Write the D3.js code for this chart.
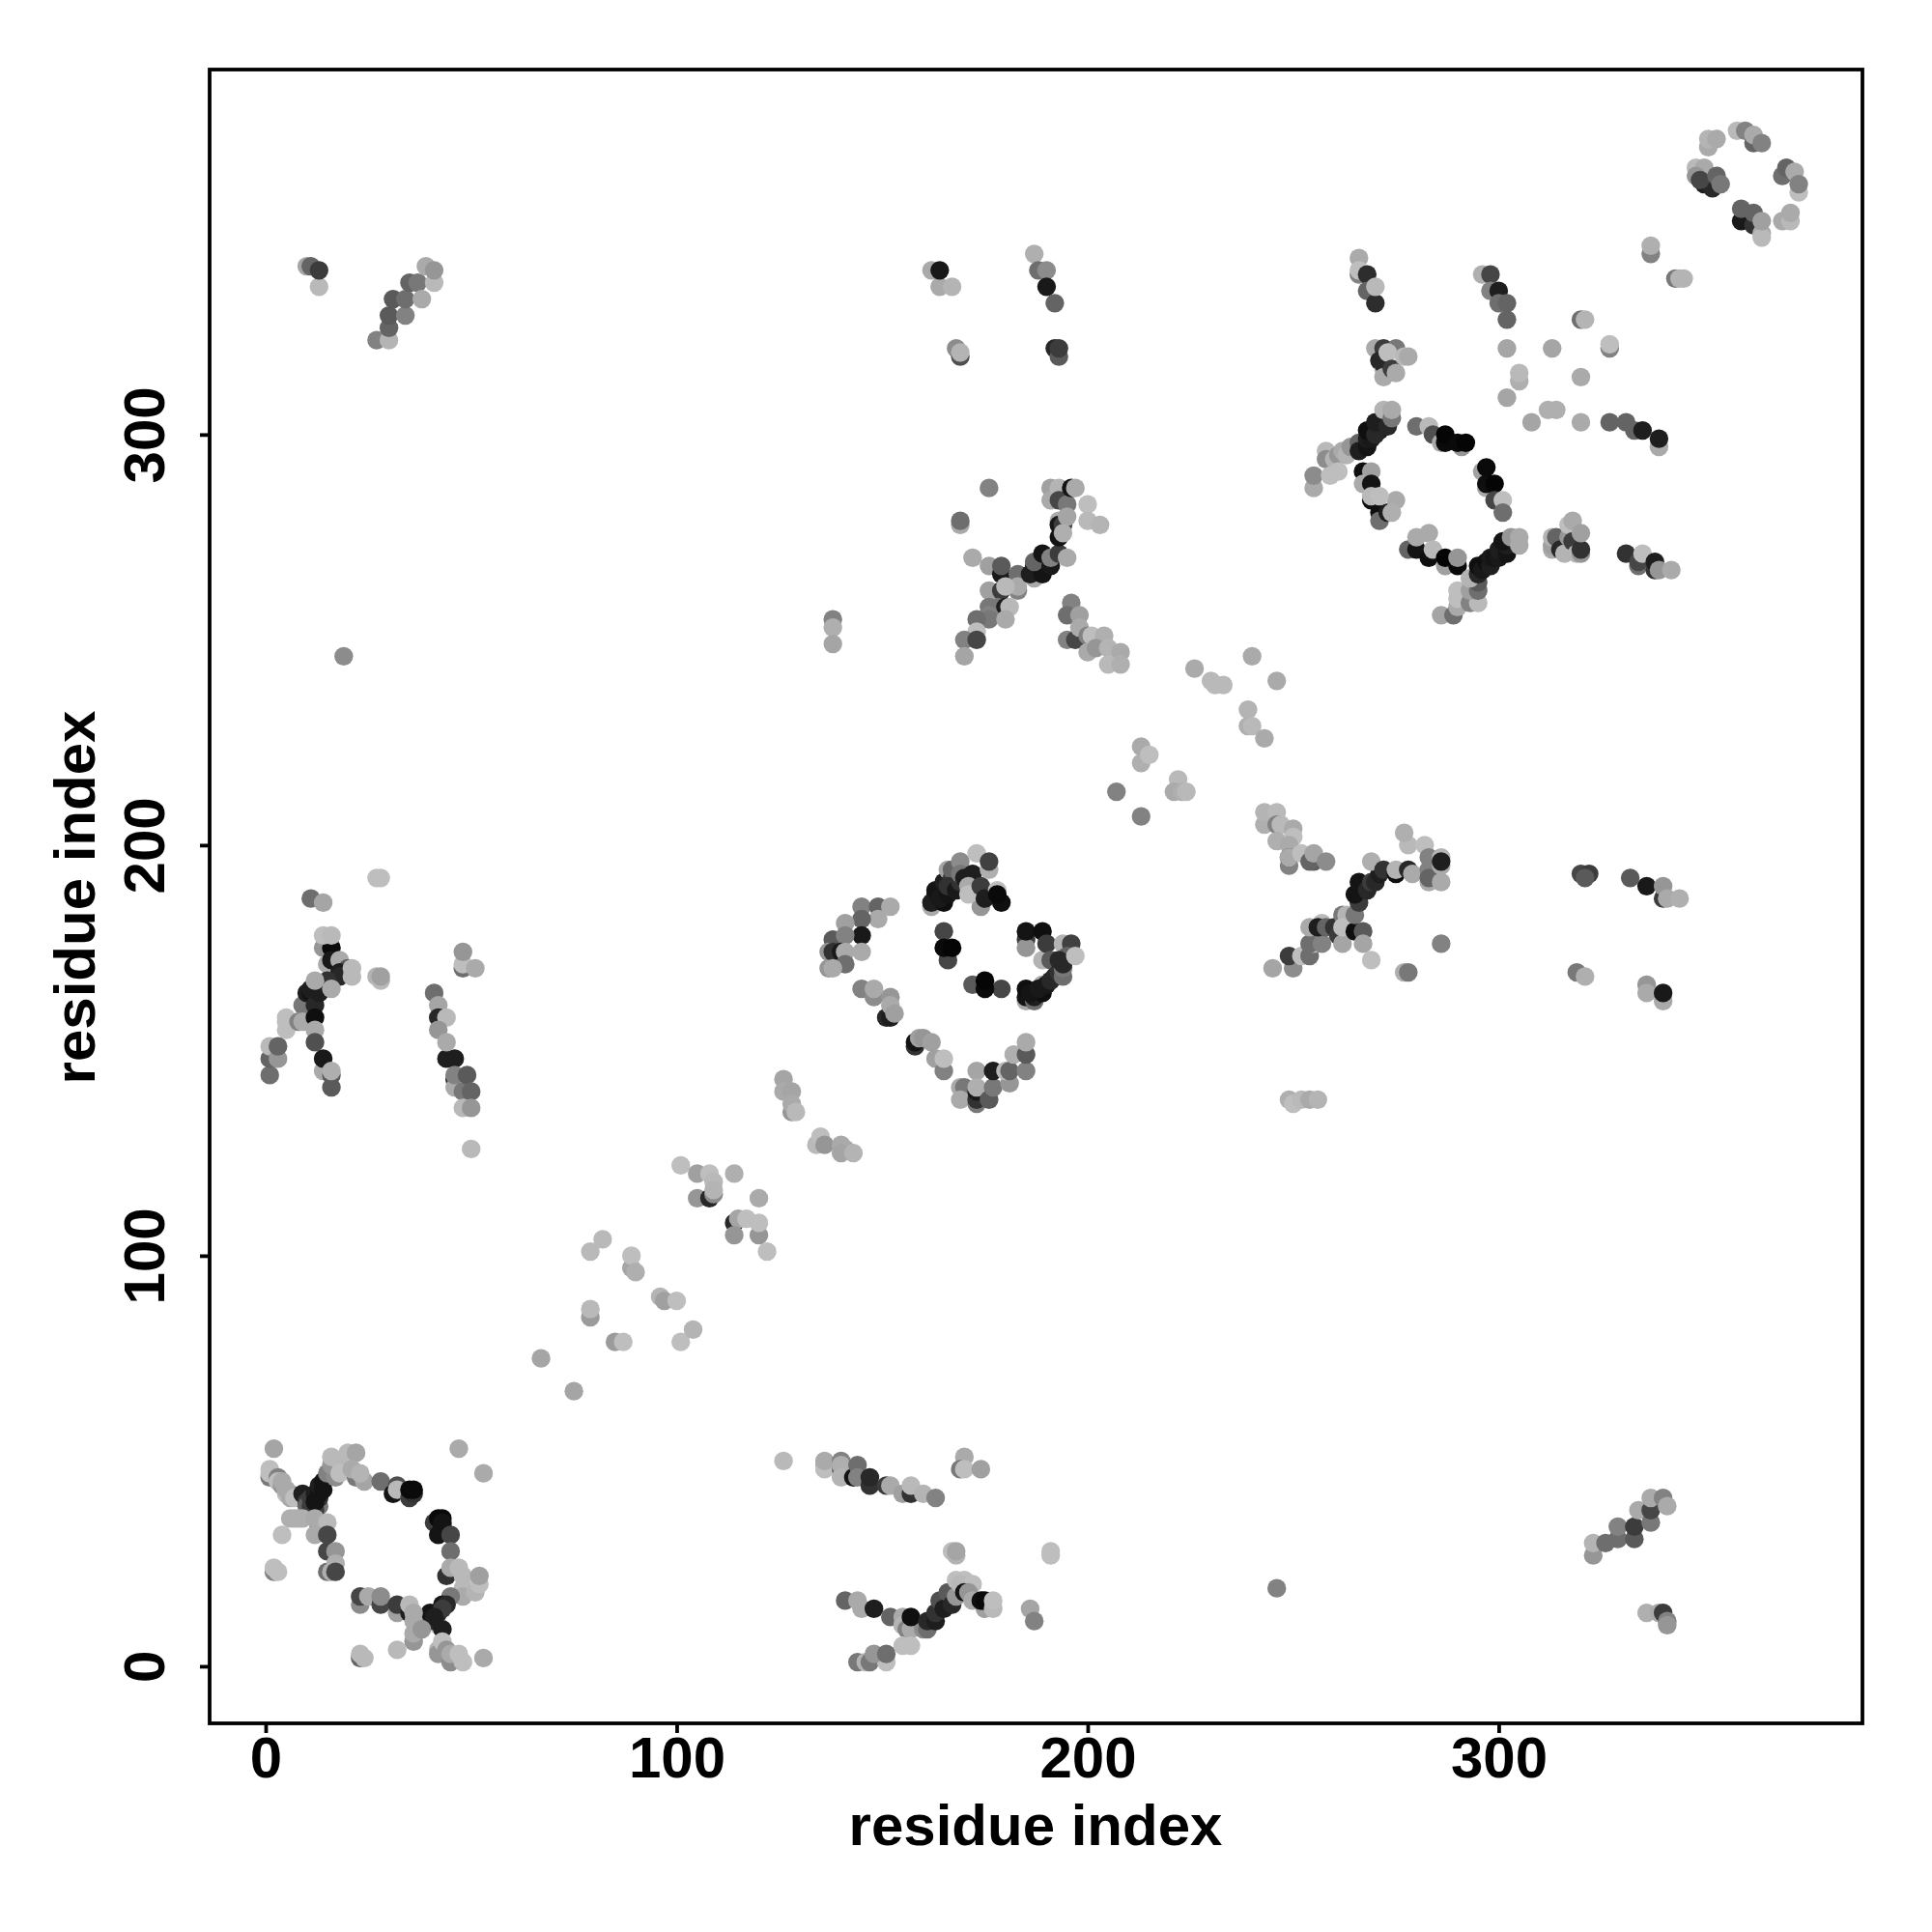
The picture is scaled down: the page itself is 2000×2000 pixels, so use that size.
<!DOCTYPE html>
<html><head><meta charset="utf-8">
<script src="https://d3js.org/d3.v7.min.js"></script>
<style>html,body{margin:0;background:#fff}</style></head>
<body><div id="chart"></div>
<script>
// [residue i, residue j, grey level]
const diagonalLow=[[67,75,165],[75,67,165],[79,101,185],[82,104,185],[89,97,165],[89,100,190],[90,96,175],[79,85,155],[79,87,185],[85,79,155],[87,79,190],[96,90,180],[97,89,160],[100,89,190],[101,79,190],[104,82,180],[101,122,190],[105,120,160],[108,120,190],[109,118,185],[105,114,150],[108,114,40],[109,115,140],[109,116,180],[114,120,175],[120,114,170],[114,108,40],[115,109,165],[117,109,190],[114,105,150],[120,105,150],[120,108,190],[122,101,190],[126,143,165],[126,140,170],[128,140,165],[128,135,150],[128,137,170],[129,135,185],[134,127,185],[135,129,190],[136,127,150],[140,127,170],[141,126,170],[140,125,165],[143,125,180]];
const diagonalMid=[[207,213,130],[213,207,130],[213,224,170],[213,220,175],[215,222,190],[222,216,185],[221,213,170],[223,213,175],[224,213,185],[226,243,170],[230,240,185],[231,239,185],[233,239,185],[239,233,180],[239,229,175],[240,229,185],[243,226,170],[240,246,170],[246,240,170],[19,246,140],[138,255,130],[138,253,175],[138,249,165],[126,50,185],[246,19,130],[249,138,175],[250,137,190],[252,138,185],[254,138,170],[256,138,180]];
const ringLowLeft=[[2,53,165],[47,53,170],[53,47,170],[4,32,190],[2,23,130],[2,24,190],[3,23,190],[1,46,120],[1,47,190],[1,48,190],[3,46,130],[3,45,190],[4,44,150],[4,45,170],[6,42,140],[5,42,190],[6,41,170],[5,43,170],[7,41,190],[13,39,120],[9,42,30],[10,40,60],[10,39,100],[11,41,60],[11,39,60],[12,38,60],[13,41,50],[12,42,30],[12,40,20],[13,42,20],[13,44,30],[14,43,20],[14,45,20],[6,36,175],[7,36,175],[8,36,175],[9,36,175],[13,34,60],[12,36,170],[15,35,185],[12,32,170],[15,32,70],[15,28,70],[17,28,150],[15,23,110],[16,23,175],[17,25,175],[17,23,70],[15,47,130],[17,46,140],[16,49,150],[17,49,150],[16,51,185],[18,50,185],[18,47,190],[20,52,185],[22,52,165],[22,46,120],[21,48,170],[24,45,165],[23,47,180],[28,45,110],[31,42,20],[32,44,80],[32,43,185],[35,41,60],[36,42,50],[35,43,10],[36,43,10],[41,35,60],[43,33,190],[42,36,10],[43,36,10],[43,35,20],[43,34,20],[42,32,20],[45,32,70],[45,28,110],[44,22,50],[45,24,170],[47,24,185],[48,22,185],[48,19,185],[48,17,170],[45,17,120],[51,18,180],[52,20,190],[52,22,160],[23,15,140],[23,17,70],[25,17,170],[28,15,70],[28,17,140],[32,13,160],[32,15,60],[35,13,30],[35,15,185],[39,12,110],[42,10,200],[43,15,20],[44,15,40],[42,13,30],[40,13,20],[43,14,60],[41,11,40],[41,12,30],[43,9,30],[36,6,150],[36,8,170],[36,11,170],[36,13,170],[38,9,150],[32,4,185],[23,2,100],[23,3,185],[24,2,185],[53,2,170],[42,4,180],[42,3,150],[43,6,190],[44,4,150],[45,1,140],[45,3,170],[47,3,190],[48,1,190]];
const blockLowMiddle=[[136,49,165],[136,48,190],[136,50,170],[140,48,110],[140,50,130],[140,49,175],[140,46,180],[143,46,20],[144,49,110],[144,46,130],[147,44,50],[147,46,40],[151,44,60],[152,44,170],[155,42,160],[157,42,50],[157,44,185],[160,42,180],[163,41,130],[170,51,170],[169,48,120],[170,48,190],[174,48,160],[167,28,190],[168,27,180],[168,28,165],[191,27,190],[191,28,190],[186,14,165],[187,11,130],[141,16,100],[145,14,170],[144,16,170],[148,14,30],[152,12,100],[155,12,170],[155,10,180],[156,9,130],[157,9,170],[160,9,140],[161,9,110],[157,12,15],[161,11,40],[163,11,30],[163,13,50],[164,16,80],[165,14,30],[166,18,90],[167,15,40],[168,17,150],[168,21,190],[170,21,190],[169,20,185],[172,20,190],[170,18,20],[171,18,150],[172,16,170],[175,14,160],[174,16,15],[175,16,10],[177,14,185],[177,16,190],[155,5,190],[157,5,190],[144,1,120],[146,1,180],[147,1,120],[151,1,190],[148,3,150],[151,3,110]];
const ringCentre=[[162,185,170],[162,186,30],[163,188,30],[163,189,20],[165,186,15],[164,187,25],[166,188,20],[165,191,30],[166,194,165],[167,192,60],[167,194,100],[166,190,50],[168,189,25],[169,191,50],[169,196,140],[169,193,120],[170,192,30],[172,193,30],[171,190,170],[174,185,150],[171,188,190],[174,190,60],[173,198,190],[175,187,30],[176,194,175],[176,196,65],[179,186,15],[178,189,190],[178,188,10],[145,185,130],[149,185,100],[149,182,170],[152,185,170],[145,182,100],[141,181,160],[145,178,25],[138,177,90],[141,178,130],[137,174,150],[137,170,150],[138,174,50],[140,174,25],[141,174,170],[141,171,110],[138,170,170],[145,174,170],[145,165,130],[148,163,140],[148,165,170],[152,163,150],[151,158,40],[152,158,30],[152,161,170],[153,159,160],[158,151,50],[158,152,20],[159,153,160],[160,153,150],[162,152,160],[163,148,160],[165,145,130],[165,148,190],[165,179,70],[166,172,70],[165,175,10],[167,175,5],[172,166,90],[179,165,70],[175,165,10],[175,167,5],[185,177,60],[185,175,150],[185,179,20],[189,179,15],[189,172,180],[190,176,60],[191,172,90],[194,176,180],[196,176,65],[195,173,100],[185,162,170],[185,163,20],[187,162,110],[187,163,30],[185,165,15],[189,166,170],[189,164,15],[186,164,20],[188,165,25],[190,166,25],[191,167,40],[192,168,40],[193,169,50],[194,168,110],[194,170,120],[193,172,40],[194,171,40],[197,173,190],[169,141,170],[170,141,120],[169,138,170],[173,145,165],[173,137,120],[173,138,50],[173,140,25],[173,141,175],[176,138,90],[177,141,120],[177,145,30],[181,142,150],[180,145,185],[181,145,100],[185,145,130],[182,149,175],[185,149,90],[185,152,170]];
const ringUpperRight=[[255,287,170],[255,290,140],[258,296,185],[258,294,140],[260,294,180],[261,295,150],[262,296,170],[259,290,190],[261,291,190],[263,295,180],[264,297,150],[266,298,100],[266,296,30],[268,297,20],[268,299,30],[269,299,25],[268,301,15],[271,301,25],[270,300,40],[270,303,30],[273,302,40],[272,306,180],[274,304,120],[274,306,170],[267,291,15],[269,291,160],[267,288,170],[269,288,20],[269,284,15],[269,285,185],[271,281,15],[271,279,110],[273,281,30],[275,284,170],[274,281,175],[271,285,190],[280,302,110],[283,302,185],[284,300,80],[286,298,170],[287,298,10],[287,300,5],[291,297,150],[290,298,10],[292,298,5],[296,291,160],[297,287,170],[297,288,15],[297,292,10],[299,288,5],[299,284,70],[301,284,190],[301,281,110],[278,272,100],[280,272,20],[280,275,170],[283,276,170],[283,270,15],[284,272,185],[287,268,160],[287,270,5],[290,268,10],[290,270,150],[286,256,165],[289,256,110],[290,258,170],[290,260,190],[290,262,190],[293,259,130],[295,259,185],[293,262,160],[295,262,110],[295,264,90],[293,265,180],[295,266,40],[295,268,15],[296,267,25],[297,269,15],[298,268,30],[298,270,25],[299,270,20],[300,270,25],[300,272,30],[302,271,20],[302,273,30],[301,274,20],[303,275,150],[305,273,170],[305,275,170]];
const blockUpperRight=[[266,339,130],[266,343,170],[266,340,190],[268,339,45],[268,335,100],[270,332,45],[270,336,185],[296,339,175],[298,339,70],[298,335,130],[300,335,30],[300,332,110],[302,332,100],[302,328,100],[302,321,165],[313,321,165],[320,328,110],[321,328,180],[327,321,130],[327,322,190],[337,344,130],[337,346,175],[343,338,120],[344,338,180],[345,338,180],[305,313,175],[305,315,185],[320,314,170],[302,309,165],[312,306,175],[314,306,175],[308,303,165],[320,303,170],[327,303,100],[331,303,100],[333,301,100],[335,301,30],[339,297,170],[339,299,30],[270,321,170],[272,321,60],[271,318,40],[272,316,170],[272,317,40],[272,314,170],[275,321,120],[273,320,190],[274,316,60],[275,315,170],[277,319,185],[278,319,170],[313,272,170],[313,273,160],[313,275,180],[314,275,100],[315,272,40],[317,275,150],[317,278,190],[316,271,180],[318,279,170],[318,274,60],[319,271,180],[320,271,150],[320,272,50],[320,276,160],[331,271,50],[334,268,110],[334,269,70],[335,271,190],[338,267,50],[338,269,30],[339,267,150],[342,267,170]];
const cornerTopRight=[[351,370,170],[351,372,180],[353,372,170],[358,374,185],[360,374,130],[362,371,100],[362,373,170],[364,371,130],[348,365,185],[350,365,170],[348,363,150],[350,361,30],[352,360,40],[349,362,70],[353,363,100],[354,361,120],[369,363,110],[370,365,100],[372,364,170],[373,359,190],[373,361,130],[359,352,25],[359,355,100],[362,351,50],[362,354,100],[364,349,170],[364,348,185],[364,352,160],[369,352,170],[371,352,185],[371,354,170]];
const blockLeft=[[11,187,110],[14,186,165],[28,192,190],[27,192,190],[14,175,150],[16,175,10],[14,178,190],[16,178,185],[15,171,170],[16,172,25],[18,172,170],[20,170,90],[18,169,30],[18,168,40],[21,168,185],[21,170,185],[9,161,120],[10,164,30],[11,164,20],[11,165,30],[12,161,40],[13,164,30],[14,166,30],[15,167,50],[16,165,170],[12,167,170],[5,155,190],[5,157,190],[5,158,190],[8,157,130],[9,157,170],[12,158,15],[12,155,170],[12,152,80],[1,144,110],[1,148,100],[1,151,185],[3,148,150],[3,151,100],[14,145,170],[14,148,25],[16,141,90],[16,144,90],[16,145,175],[27,168,180],[28,167,185],[28,168,160],[48,170,110],[48,171,190],[48,174,150],[51,170,170],[41,164,110],[42,161,165],[42,158,40],[44,158,185],[42,155,150],[44,148,30],[46,148,30],[44,152,170],[46,143,30],[46,141,170],[46,144,130],[48,140,120],[49,144,90],[50,140,100],[48,136,185],[50,136,150],[50,126,185]];
const blockUpperMiddle=[[176,287,130],[169,278,170],[169,279,110],[172,270,170],[176,268,160],[179,266,25],[179,268,90],[176,262,160],[183,266,110],[183,262,130],[183,263,170],[179,262,60],[180,263,185],[176,258,120],[178,258,120],[180,258,30],[181,258,185],[176,256,130],[176,255,120],[180,255,170],[173,255,110],[173,252,190],[170,250,130],[173,250,70],[170,246,165],[187,265,170],[186,266,30],[187,268,30],[189,266,20],[187,269,100],[189,271,20],[191,268,25],[191,270,130],[193,271,60],[195,270,170],[191,287,160],[191,284,170],[193,287,180],[193,284,70],[195,283,120],[196,287,20],[197,287,170],[193,279,170],[193,278,25],[193,275,20],[194,278,60],[195,280,165],[194,276,175],[200,283,190],[200,279,185],[203,278,180],[196,259,130],[195,256,110],[198,256,160],[195,250,130],[197,250,70],[198,253,170],[200,251,130],[200,247,170],[201,251,190],[204,251,175],[202,248,150],[205,248,180],[208,247,170],[205,244,185],[208,244,175]];
const blockCentreRight=[[243,205,175],[243,208,180],[246,208,185],[246,205,130],[247,205,185],[250,204,170],[246,201,175],[250,202,190],[249,200,170],[249,195,130],[249,197,70],[249,197,170],[252,198,190],[255,196,90],[254,196,100],[255,198,165],[258,196,140],[245,170,165],[250,170,140],[249,173,60],[252,173,190],[254,173,110],[255,176,185],[254,176,110],[254,180,170],[257,176,130],[257,181,185],[256,180,30],[258,180,100],[260,180,50],[261,178,60],[262,183,120],[263,183,180],[262,176,165],[262,180,190],[265,179,15],[267,179,90],[267,176,165],[269,172,190],[265,183,120],[266,186,60],[265,188,20],[266,191,20],[268,189,40],[269,191,60],[270,191,40],[271,193,30],[269,196,175],[272,194,50],[275,193,15],[275,194,180],[278,200,185],[277,203,175],[278,194,40],[279,193,170],[282,200,190],[283,197,130],[283,194,130],[283,191,170],[283,192,100],[286,197,180],[286,191,170],[286,195,170],[286,196,30],[277,169,175],[278,169,120],[286,176,130],[320,193,70],[322,193,60],[321,192,90],[332,192,90],[336,190,25],[340,187,60],[340,190,150],[341,187,170],[344,187,175],[319,169,120],[321,168,175],[336,166,150],[336,164,170],[340,162,170],[340,164,25]];
const blockTop=[[10,341,165],[11,341,100],[13,336,185],[13,340,60],[27,323,130],[30,323,180],[30,326,100],[30,329,90],[31,333,90],[34,329,130],[34,333,110],[35,337,100],[37,337,120],[38,333,170],[41,337,185],[39,341,170],[41,340,150],[162,340,170],[164,336,170],[167,336,180],[164,340,25],[168,321,140],[169,319,80],[169,320,180],[187,344,175],[188,340,110],[190,340,140],[190,336,25],[192,332,100],[192,321,40],[193,319,90],[193,321,60]];
const blockLowRight=[[323,27,150],[323,30,180],[326,30,110],[329,31,110],[329,34,130],[333,31,90],[333,34,60],[334,38,170],[337,35,120],[337,38,70],[337,41,170],[340,41,130],[341,39,170],[336,13,175],[339,13,170],[340,13,60],[341,11,130],[341,10,150]];
const contactGroups=[diagonalLow,diagonalMid,ringLowLeft,blockLowMiddle,ringCentre,ringUpperRight,blockUpperRight,cornerTopRight,blockLeft,blockUpperMiddle,blockCentreRight,blockTop,blockLowRight];
const xTicks=[0,100,200,300];
const yTicks=[0,100,200,300];
const axisLabel="residue index";

const W=2000,H=2000,plotLeft=217,plotRight=1928,plotTop=72,plotBottom=1784;
const svg=d3.select("#chart").append("svg").attr("width",W).attr("height",H).style("display","block");
svg.append("rect").attr("width",W).attr("height",H).attr("fill","#fff");
const x=d3.scaleLinear().domain([-13.63,388.5]).range([plotLeft,plotRight]);
const y=d3.scaleLinear().domain([-13.9,388.9]).range([plotBottom,plotTop]);
const grey=d3.scaleLinear().domain([0,255]).range(["#000","#fff"]);
const font="'Liberation Sans',Arial,sans-serif";
contactGroups.forEach(g=>{
  svg.append("g").selectAll("circle").data(g).join("circle")
    .attr("cx",d=>x(d[0])).attr("cy",d=>y(d[1])).attr("r",9.7).attr("fill",d=>grey(d[2]));
});
svg.append("rect").attr("x",plotLeft).attr("y",plotTop).attr("width",plotRight-plotLeft).attr("height",plotBottom-plotTop)
  .attr("fill","none").attr("stroke","#000").attr("stroke-width",3.8);
const xa=svg.append("g").attr("transform",`translate(0,${plotBottom})`)
  .call(d3.axisBottom(x).tickValues(xTicks).tickSize(10).tickFormat(d3.format("d")));
const ya=svg.append("g").attr("transform",`translate(${plotLeft},0)`)
  .call(d3.axisLeft(y).tickValues(yTicks).tickSize(10).tickFormat(d3.format("d")));
[xa,ya].forEach(a=>{a.select(".domain").remove();a.selectAll("line").attr("stroke","#000").attr("stroke-width",3.8);
  a.selectAll("text").attr("fill","#000").style("font",`bold 60px ${font}`);});
xa.selectAll("text").attr("dy",null).attr("y",56);
ya.selectAll("text").attr("x",null).attr("dy",null).attr("text-anchor","middle")
  .attr("transform",`translate(-47,0) rotate(-90)`);
svg.append("text").attr("x",1072).attr("y",1910).attr("text-anchor","middle")
  .style("font",`bold 60px ${font}`).text(axisLabel);
svg.append("text").attr("transform","translate(98,929) rotate(-90)").attr("text-anchor","middle")
  .style("font",`bold 60px ${font}`).text(axisLabel);
</script></body></html>
